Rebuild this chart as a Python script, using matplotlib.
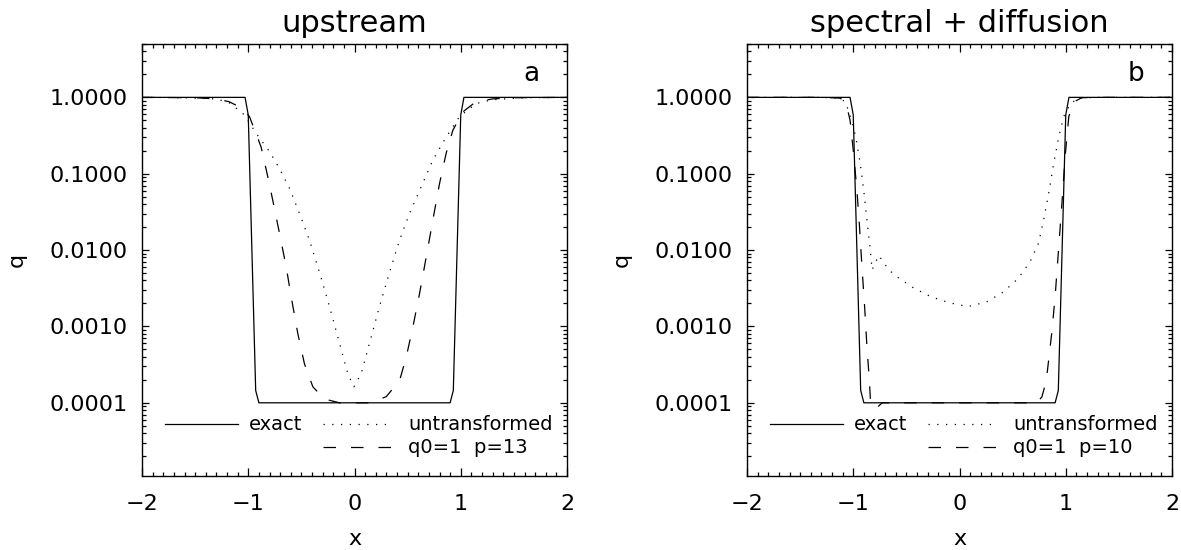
import numpy as np
import matplotlib
matplotlib.use("Agg")
import matplotlib.pyplot as plt
from matplotlib.ticker import MultipleLocator, LogLocator, FormatStrFormatter, NullFormatter

# exact solution (same in both panels)
exact_x = [-2.0, -1.03, -1.0, -0.93, -0.90, 0.90, 0.93, 1.0, 1.03, 2.0]
exact_q = [1.0, 1.0, 0.589, 1.45e-4, 1.0e-4, 1.0e-4, 1.45e-4, 0.589, 1.0, 1.0]

# panel a: upstream
a_untr_x = [-2.0, -1.6, -1.3, -1.18, -1.115, -1.036, -0.926, -0.80, -0.706, -0.612,
            -0.518, -0.424, -0.33, -0.235, -0.141, -0.063, -0.006, 0.063, 0.141, 0.235,
            0.33, 0.424, 0.518, 0.628, 0.737, 0.863, 0.989, 1.146, 1.3, 1.6, 2.0]
a_untr_q = [1.0, 0.989, 0.955, 0.851, 0.724, 0.589, 0.339, 0.195, 0.117, 0.0646,
            0.0302, 0.0135, 0.00513, 0.00182, 6.03e-4, 2.40e-4, 1.62e-4, 2.40e-4, 6.03e-4, 0.00182,
            0.00513, 0.0135, 0.0302, 0.0676, 0.151, 0.302, 0.562, 0.832, 0.933, 0.989, 1.0]
a_trans_x = [-2.0, -1.5, -1.3, -1.18, -1.06, -0.989, -0.879, -0.816, -0.769, -0.706,
             -0.643, -0.596, -0.534, -0.471, -0.392, -0.282, -0.141, 0.141, 0.298, 0.424,
             0.487, 0.549, 0.612, 0.675, 0.737, 0.80, 0.863, 0.926, 1.02, 1.14, 1.3, 1.5, 2.0]
a_trans_q = [1.0, 0.989, 0.955, 0.877, 0.724, 0.562, 0.224, 0.0912, 0.0447, 0.0166,
             0.00603, 0.00245, 8.13e-4, 3.24e-4, 1.62e-4, 1.12e-4, 1.0e-4, 1.0e-4, 1.20e-4, 1.95e-4,
             3.98e-4, 9.77e-4, 0.00269, 0.00813, 0.0245, 0.0741, 0.186, 0.372, 0.646, 0.871, 0.955, 0.989, 1.0]

# panel b: spectral + diffusion
b_untr_x = [-2.0, -1.3, -1.15, -1.08, -1.045, -0.997, -0.966, -0.934, -0.902, -0.871,
            -0.839, -0.823, -0.760, -0.665, -0.570, -0.427, -0.269, -0.095, 0.079, 0.253,
            0.411, 0.554, 0.665, 0.744, 0.791, 0.839, 0.886, 0.934, 0.981, 1.045, 1.12, 1.3, 2.0]
b_untr_q = [1.0, 1.0, 0.977, 0.891, 0.676, 0.407, 0.251, 0.135, 0.0617, 0.0245,
            0.0100, 0.00550, 0.00851, 0.00550, 0.00427, 0.00316, 0.00245, 0.00204, 0.00182, 0.00209,
            0.00282, 0.00427, 0.00708, 0.0123, 0.0245, 0.0550, 0.135, 0.302, 0.562, 0.832, 0.977, 1.0, 1.0]
b_trans_x = [-2.0, -1.3, -1.12, -1.06, -1.03, -0.997, -0.966, -0.943, -0.918, -0.893,
             -0.871, -0.848, -0.839, -0.791, -0.728, 0.728, 0.776, 0.817, 0.839, 0.871,
             0.902, 0.934, 0.966, 0.997, 1.029, 1.076, 1.15, 1.3, 2.0]
b_trans_q = [1.0, 1.0, 0.977, 0.759, 0.501, 0.186, 0.0617, 0.0224, 0.00603, 0.00182,
             5.37e-4, 1.95e-4, 1.12e-4, 8.3e-5, 1.0e-4, 1.0e-4, 1.20e-4, 1.95e-4, 3.63e-4, 8.91e-4,
             0.00269, 0.0110, 0.0447, 0.186, 0.562, 0.871, 0.989, 1.0, 1.0]

panels = [
    dict(title='upstream', letter='a', untr=(a_untr_x, a_untr_q), trans=(a_trans_x, a_trans_q),
         trans_label='q0=1  p=13'),
    dict(title='spectral + diffusion', letter='b', untr=(b_untr_x, b_untr_q), trans=(b_trans_x, b_trans_q),
         trans_label='q0=1  p=10'),
]

DOT = (0, (1.0, 6.0))
DASH = (0, (10.0, 12.0))
LW = 0.9

plt.rcParams['font.family'] = 'DejaVu Sans'

fig = plt.figure(figsize=(11.81, 5.5), dpi=100)
lefts = [142 / 1181, 747 / 1181]

for left, p in zip(lefts, panels):
    ax = fig.add_axes([left, 74 / 550, 425 / 1181, 432 / 550])
    ax.set_yscale('log')
    ax.plot(exact_x, exact_q, color='black', lw=LW, ls='-')
    ax.plot(*p['untr'], color='black', lw=LW, ls=DOT)
    ax.plot(*p['trans'], color='black', lw=LW, ls=DASH)

    ax.set_xlim(-2, 2)
    ax.set_ylim(1.1e-5, 5)
    ax.xaxis.set_major_locator(MultipleLocator(1))
    ax.xaxis.set_minor_locator(MultipleLocator(0.1))
    ax.yaxis.set_major_locator(LogLocator(base=10, numticks=10))
    ax.yaxis.set_minor_locator(LogLocator(base=10, subs=np.arange(2, 10), numticks=20))
    ax.yaxis.set_major_formatter(FormatStrFormatter('%.4f'))
    ax.yaxis.set_minor_formatter(NullFormatter())
    ax.tick_params(which='both', direction='in', top=True, right=True, width=0.9)
    ax.tick_params(axis='x', which='major', length=6, labelsize=16, pad=13)
    ax.tick_params(axis='x', which='minor', length=3)
    ax.tick_params(axis='y', which='major', length=5, labelsize=16, pad=10)
    ax.tick_params(axis='y', which='minor', length=3)
    for s in ax.spines.values():
        s.set_linewidth(1.0)

    ax.set_xlabel('x', fontsize=16, labelpad=11)
    ax.set_ylabel('q', fontsize=16, labelpad=17)
    ax.set_title(p['title'], fontsize=22, pad=9)
    ax.text(0.916, 0.93, p['letter'], transform=ax.transAxes, fontsize=19,
            ha='center', va='center')

    # legend drawn by hand to match the two-row layout
    ax.plot([0.054, 0.226], [0.120, 0.120], transform=ax.transAxes, color='black', lw=LW)
    ax.text(0.252, 0.120, 'exact', transform=ax.transAxes, fontsize=14, va='center')
    ax.plot([0.426, 0.591], [0.120, 0.120], transform=ax.transAxes, color='black', lw=LW, ls=DOT)
    ax.text(0.626, 0.120, 'untransformed', transform=ax.transAxes, fontsize=14, va='center')
    ax.plot([0.426, 0.591], [0.067, 0.067], transform=ax.transAxes, color='black', lw=LW, ls=DASH)
    ax.text(0.626, 0.067, p['trans_label'], transform=ax.transAxes, fontsize=14, va='center')

fig.savefig('out.png', dpi=100)
